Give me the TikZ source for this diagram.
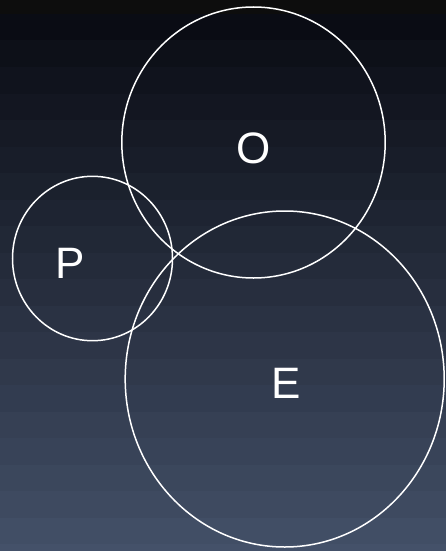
\documentclass[tikz,border=0pt]{standalone}
\usepackage{fontspec}
\setmainfont{Liberation Sans}
\definecolor{bgtop}{RGB}{10,12,20}
\definecolor{bgbot}{RGB}{68,81,105}
\tikzset{
  ring/.style={draw=white, line width=1.5pt},
  lbl/.style={text=white, font=\fontsize{44}{44}\selectfont, inner sep=0pt, anchor=center}
}
\begin{document}
\begin{tikzpicture}[x=1pt,y=-1pt]
\useasboundingbox (0,0) rectangle (446,551);
\fill[black!95!white] (0,0) rectangle (446,14);
\foreach \i in {0,...,20} {
  \pgfmathtruncatemacro{\p}{100*\i/20}
  \fill[bgbot!\p!bgtop] (0,{14+\i*26.5}) rectangle (446,{14+(\i+1)*26.5+0.5});
}
\draw[ring] (253.5,142.5) ellipse [x radius=131.7, y radius=135.5];
\draw[ring] (92.5,258.5) ellipse [x radius=80, y radius=82.2];
\draw[ring] (284.7,379) ellipse [x radius=159.5, y radius=168];
\node[lbl] (o) at (254,148) {O};
\node[lbl] (p) at (70,263) {P};
\node[lbl] (e) at (286,383) {E};
\end{tikzpicture}
\end{document}
